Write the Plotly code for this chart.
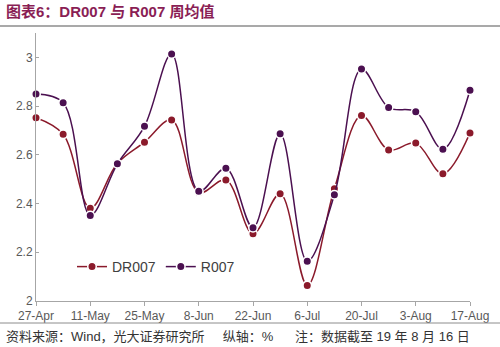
import plotly.graph_objects as go
import pandas as pd

dates = pd.date_range("2019-04-27", periods=17, freq="7D")
dr007 = [2.752, 2.684, 2.381, 2.565, 2.652, 2.743, 2.445, 2.497, 2.276, 2.440,
         2.064, 2.461, 2.761, 2.620, 2.648, 2.522, 2.690]
r007 = [2.850, 2.814, 2.351, 2.563, 2.717, 3.014, 2.450, 2.545, 2.301, 2.686,
        2.163, 2.436, 2.952, 2.794, 2.777, 2.623, 2.865]

title_text = "图表6：DR007 与 R007 周均值"
footer_text = ("资料来源：Wind，光大证券研究所" + "&nbsp;" * 5 + "纵轴：%" + "&nbsp;" * 6
               + "注：数据截至 19 年 8 月 16 日")

FONT = "Arial, 'Liberation Sans', 'Noto Sans CJK SC', sans-serif"
C_DR = "#8B1A2B"
C_R = "#4B1050"

fig = go.Figure()
fig.add_trace(go.Scatter(x=dates, y=dr007, name="DR007", mode="lines+markers", cliponaxis=False,
                         line=dict(color=C_DR, width=1.5, shape="spline", smoothing=1),
                         marker=dict(size=8.5, color=C_DR, line=dict(color="white", width=1.5))))
fig.add_trace(go.Scatter(x=dates, y=r007, name="R007", mode="lines+markers", cliponaxis=False,
                         line=dict(color=C_R, width=1.5, shape="spline", smoothing=1),
                         marker=dict(size=8.5, color=C_R, line=dict(color="white", width=1.5))))

W, H = 500, 347
ml, mr, mt, mb = 36, 30, 33, 46
pw, ph = W - ml - mr, H - mt - mb

def px(xp):
    return (xp - ml) / pw

def py(yp):
    return (H - mb - yp) / ph

fig.update_layout(
    width=W, height=H,
    margin=dict(l=ml, r=mr, t=mt, b=mb),
    paper_bgcolor="white", plot_bgcolor="white",
    font=dict(family=FONT, size=12, color="#595959"),
    showlegend=True,
    legend=dict(orientation="h", x=px(72), y=py(267), xanchor="left", yanchor="middle",
                font=dict(size=14, color="#404040"), bgcolor="rgba(0,0,0,0)",
                itemwidth=30, tracegroupgap=0),
    xaxis=dict(type="date", range=[dates[0], dates[-1]],
               tick0="2019-04-27", dtick=14 * 86400000, tickformat="%-d-%b",
               showline=True, linecolor="#A6A6A6", linewidth=1,
               ticks="outside", ticklen=4, tickcolor="#A6A6A6",
               showgrid=False, zeroline=False,
               tickfont=dict(size=12, color="#595959")),
    yaxis=dict(range=[2, 3.1], tick0=2, dtick=0.2, tickformat="~g",
               showline=True, linecolor="#A6A6A6", linewidth=1,
               ticks="inside", ticklen=3, tickcolor="#A6A6A6",
               showgrid=False, zeroline=False,
               tickfont=dict(size=12, color="#595959")),
    annotations=[
        dict(text="<b>" + title_text + "</b>", x=px(4), y=py(12), xref="paper", yref="paper",
             xanchor="left", yanchor="middle", showarrow=False,
             font=dict(size=15, color="#8A1E55", family=FONT)),
        dict(text=footer_text, x=px(4), y=py(336), xref="paper", yref="paper",
             xanchor="left", yanchor="middle", showarrow=False,
             font=dict(size=13, color="#333333", family=FONT)),
    ],
    shapes=[
        dict(type="line", xref="paper", yref="paper", x0=px(0), x1=px(500),
             y0=py(26), y1=py(26), line=dict(color="#8C8C8C", width=1.5)),
        dict(type="line", xref="paper", yref="paper", x0=px(0), x1=px(500),
             y0=py(323), y1=py(323), line=dict(color="#8C8C8C", width=1)),
    ],
)

fig.write_html("out.html")
